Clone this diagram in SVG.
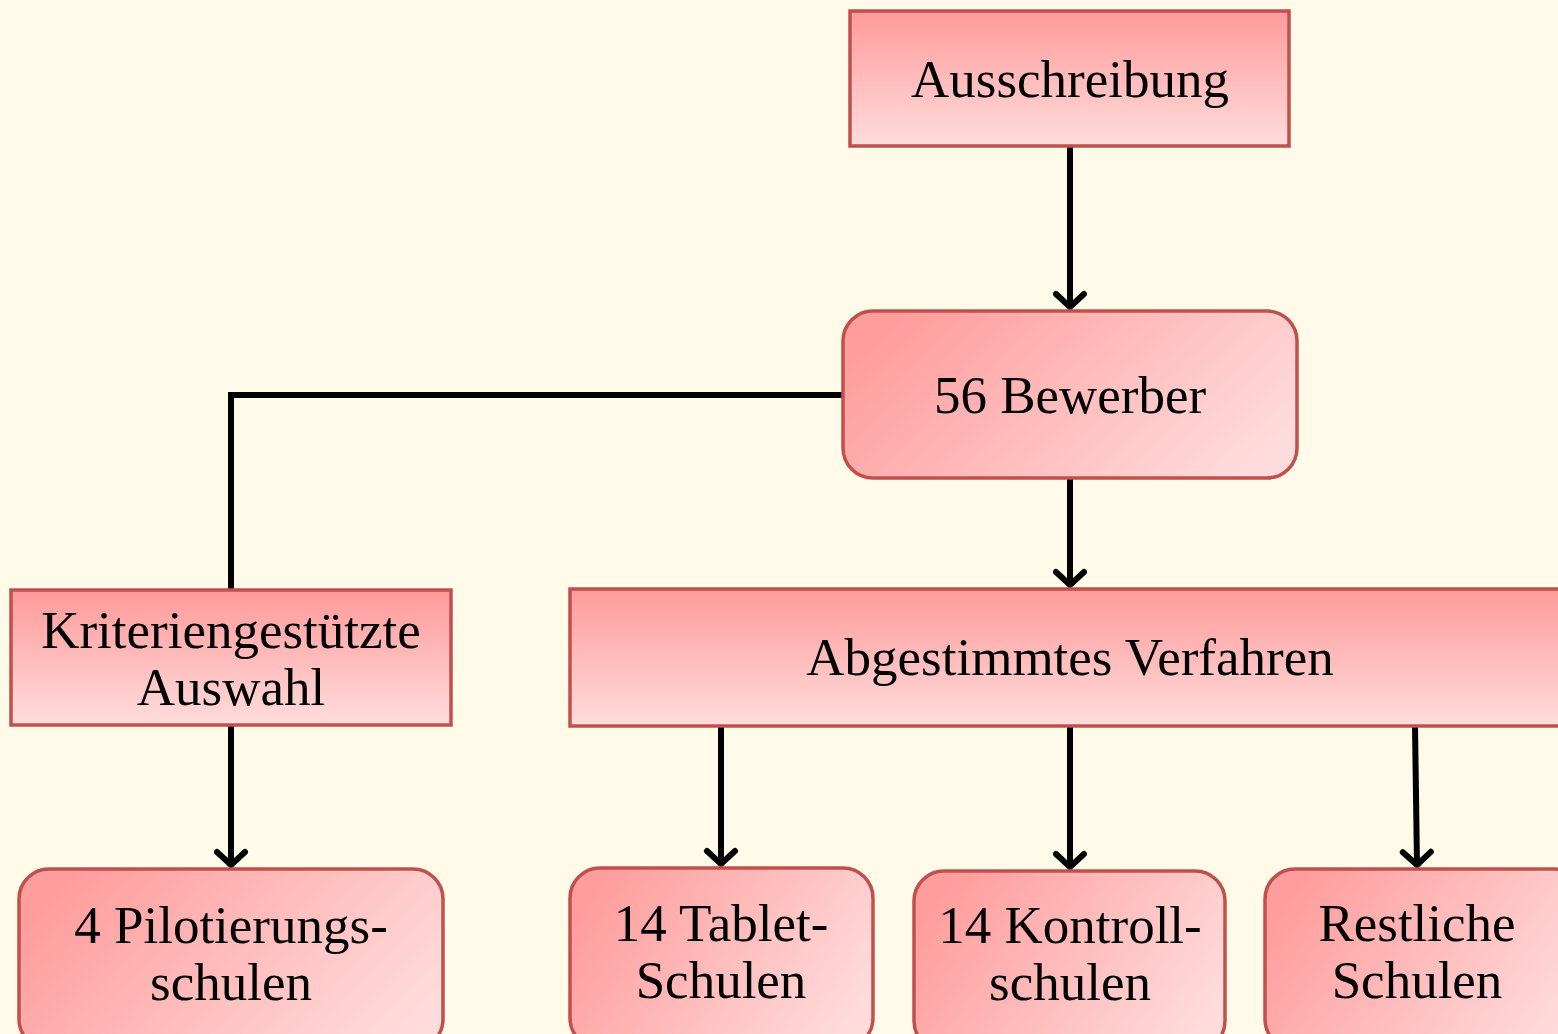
<svg xmlns="http://www.w3.org/2000/svg" width="1558" height="1034" viewBox="0 0 1558 1034">
<style>
.box{stroke:#c0504d;stroke-width:3.5}
.sq{fill:url(#gv)}
.rd{fill:url(#gd)}
.t{font-family:"Liberation Serif","Times New Roman",serif;font-size:53px;fill:#000;text-anchor:middle}
.c{fill:none;stroke:#000;stroke-width:6}
</style>
<defs>
<linearGradient id="gv" x1="0" y1="0" x2="0" y2="1">
<stop offset="0" stop-color="#ff9a9a"/>
<stop offset="1" stop-color="#ffdcdc"/>
</linearGradient>
<linearGradient id="gd" x1="0" y1="0.3" x2="1" y2="0.7">
<stop offset="0" stop-color="#ff9c9c"/>
<stop offset="1" stop-color="#ffdcdc"/>
</linearGradient>
<marker id="ar" markerUnits="userSpaceOnUse" markerWidth="40" markerHeight="40" refX="20" refY="20" orient="auto" viewBox="0 0 40 40">
<path d="M7 6 L20 20 L7 34" fill="none" stroke="#000" stroke-width="6" stroke-linecap="round" stroke-linejoin="miter"/>
</marker>
</defs>
<rect width="1558" height="1034" fill="#fffbe8"/>
<g id="connectors">
<line class="c" x1="1070" y1="146" x2="1070" y2="307" marker-end="url(#ar)"/>
<line class="c" x1="1070" y1="478" x2="1070" y2="585" marker-end="url(#ar)"/>
<polyline class="c" points="843,395 231,395 231,590"/>
<line class="c" x1="231" y1="725" x2="231" y2="865" marker-end="url(#ar)"/>
<line class="c" x1="721" y1="726" x2="721" y2="864" marker-end="url(#ar)"/>
<line class="c" x1="1070" y1="726" x2="1070" y2="867" marker-end="url(#ar)"/>
<line class="c" x1="1415" y1="726" x2="1417" y2="865" marker-end="url(#ar)"/>
</g>
<g id="ausschreibung">
<rect class="box sq" x="850" y="11" width="439" height="135"/>
<text class="t" x="1070" y="97">Ausschreibung</text>
</g>
<g id="bewerber">
<rect class="box rd" x="843" y="311" width="454" height="167" rx="30"/>
<text class="t" x="1070" y="413">56 Bewerber</text>
</g>
<g id="kriterien">
<rect class="box sq" x="11" y="590" width="440" height="135"/>
<text class="t" x="231" y="648">Kriteriengestützte</text>
<text class="t" x="231" y="705">Auswahl</text>
</g>
<g id="verfahren">
<rect class="box sq" x="570" y="589" width="1000" height="137"/>
<text class="t" x="1070" y="675">Abgestimmtes Verfahren</text>
</g>
<g id="pilot">
<rect class="box rd" x="19" y="869" width="424" height="180" rx="30"/>
<text class="t" x="231" y="943">4 Pilotierungs-</text>
<text class="t" x="231" y="1000">schulen</text>
</g>
<g id="tablet">
<rect class="box rd" x="570" y="868" width="303" height="180" rx="30"/>
<text class="t" x="721" y="941">14 Tablet-</text>
<text class="t" x="721" y="998">Schulen</text>
</g>
<g id="kontroll">
<rect class="box rd" x="914" y="871" width="311" height="180" rx="30"/>
<text class="t" x="1070" y="943">14 Kontroll-</text>
<text class="t" x="1070" y="1000">schulen</text>
</g>
<g id="restliche">
<rect class="box rd" x="1265" y="869" width="320" height="180" rx="30"/>
<text class="t" x="1417" y="941">Restliche</text>
<text class="t" x="1417" y="998">Schulen</text>
</g>
</svg>
